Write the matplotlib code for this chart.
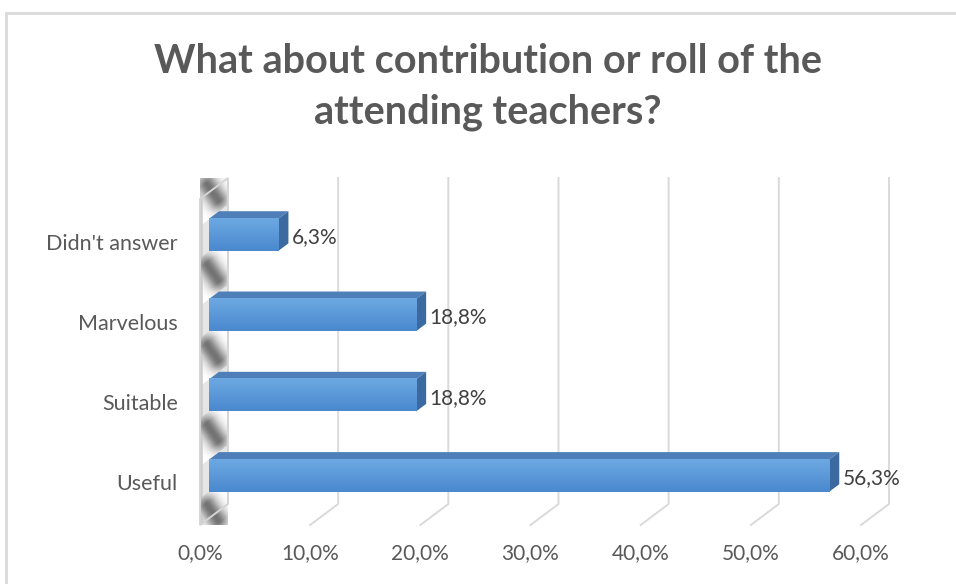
import matplotlib.pyplot as plt
import numpy as np
from matplotlib.colors import LinearSegmentedColormap
from matplotlib.patches import Polygon, Rectangle

plt.rcParams['font.family'] = ['Lato', 'DejaVu Sans']

categories = ['Useful', 'Suitable', 'Marvelous', "Didn't answer"]
values = [56.3, 18.8, 18.8, 6.3]
xticks = [0, 10, 20, 30, 40, 50, 60]
title = 'What about contribution or roll of the\nattending teachers?'

# fake 3D: depth offset of the back wall in data units
DX, DY = 2.54, 0.2615
D0, D1 = 0.32, 0.68          # bar front / back depth fraction
BAR_H = 0.4
Y0, Y1 = -0.53, 3.53

fig = plt.figure(figsize=(9.56, 5.84), dpi=100)
fig.add_artist(Rectangle((6 / 956, -0.1), 1.2, (584 - 13) / 584 + 0.1,
                         transform=fig.transFigure, fill=False,
                         ec='#d9d9d9', lw=2))

ax = fig.add_axes([200 / 956, 59 / 584, 661 / 956, 326 / 584])
ax.set_xlim(0, 60)
ax.set_ylim(Y0, Y1)
for s in ax.spines.values():
    s.set_visible(False)

grid_c = '#dadada'
for x in xticks[1:]:
    ax.plot([x + DX, x + DX, x], [Y1 + DY, Y0 + DY, Y0], color=grid_c,
            lw=1.4, clip_on=False, zorder=1)

# side wall, shadowed diagonally between the bars
wall = Polygon([(0, Y0), (0, Y1), (DX, Y1 + DY), (DX, Y0 + DY)],
               closed=True, fc='none', ec='#d4d4d4', lw=1.4,
               clip_on=False, zorder=3)
ax.add_patch(wall)
gx = np.linspace(0, DX, 40)
gy = np.linspace(Y0, Y1 + DY, 400)
X, Y = np.meshgrid(gx, gy)
U = X / DX
H = Y - U * DY
P = np.mod(H - 0.2, 1.0)
T = np.clip(1 - P / 0.6, 0, 1)
band = np.exp(-((U - (0.05 + 0.8 * T)) / 0.3) ** 2)
fade = np.clip(np.minimum(P, 0.6 - P) / 0.12, 0, 1)
dark = np.where(P < 0.6, 0.55 * band * (0.4 + 0.6 * fade), 0.1)
dark = np.where(U < 0.1, np.maximum(dark, 0.2), dark)
im = ax.imshow(1 - dark, cmap='gray', vmin=0, vmax=1, aspect='auto',
               extent=[0, DX, Y0, Y1 + DY], origin='lower', zorder=2,
               clip_on=False, interpolation='bilinear')
im.set_clip_path(wall)

front_c = '#5b9bd5'
top_c = '#4e7fb8'
side_c = '#3a6a9f'
front_cmap = LinearSegmentedColormap.from_list('bar', ['#4a89cf', '#6ca8e2'])
ypos = np.arange(len(categories))
bars = ax.barh(ypos + D0 * DY, values, left=D0 * DX, height=BAR_H,
               color=front_c, zorder=5, clip_on=False)
bd = D1 - D0
for i, (b, v) in enumerate(zip(bars, values)):
    x0 = D0 * DX
    yb = i - BAR_H / 2 + D0 * DY
    yt = i + BAR_H / 2 + D0 * DY
    ax.add_patch(Polygon([(x0, yt), (x0 + v, yt), (x0 + v + bd * DX, yt + bd * DY),
                          (x0 + bd * DX, yt + bd * DY)], closed=True,
                         fc=top_c, ec='none', zorder=5, clip_on=False))
    ax.add_patch(Polygon([(x0 + v, yb), (x0 + v + bd * DX, yb + bd * DY),
                          (x0 + v + bd * DX, yt + bd * DY), (x0 + v, yt)],
                         closed=True, fc=side_c, ec='none', zorder=5,
                         clip_on=False))
    g = ax.imshow(np.linspace(0, 1, 40).reshape(-1, 1), cmap=front_cmap,
                  aspect='auto', extent=[x0, x0 + v, yb, yt], origin='lower',
                  zorder=6, clip_on=False)
    g.set_clip_path(b)
    ax.text(x0 + v + bd * DX + 0.3, i + D0 * DY - 0.03,
            f'{v:.1f}%'.replace('.', ','), va='center', ha='left',
            fontsize=15, color='#404040', zorder=7)

ax.set_xlim(0, 60)
ax.set_ylim(Y0, Y1)
ax.set_xticks(xticks)
ax.set_xticklabels([f'{t:.1f}%'.replace('.', ',') for t in xticks])
ax.set_yticks(ypos)
ax.set_yticklabels(categories)
ax.tick_params(axis='x', length=0, pad=13, labelsize=15, labelcolor='#595959')
ax.tick_params(axis='y', length=0, pad=16, labelsize=15.5, labelcolor='#595959')

fig.text(488 / 956, 1 - 87 / 584, title, ha='center', va='center',
         fontsize=28.5, fontweight='bold', color='#595959', linespacing=1.42)

fig.savefig('out.png', dpi=100)
